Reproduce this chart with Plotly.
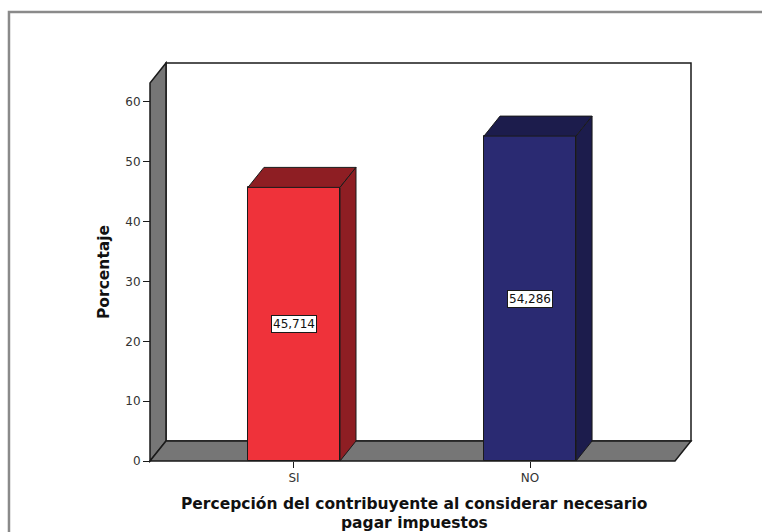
import plotly.graph_objects as go

# ---- data ----
categories = ["SI", "NO"]
percentages = [45.714, 54.286]
value_labels = ["45,714", "54,286"]
y_ticks = [0, 10, 20, 30, 40, 50, 60]
x_title_lines = ["Percepción del contribuyente al considerar necesario", "pagar impuestos"]
y_title = "Porcentaje"

# ---- styling ----
front_colors = ["#ef323a", "#2a2a72"]
shade_colors = ["#8e1e23", "#1c1c4c"]
wall_gray = "#767676"
edge = "#1a1a1a"
FONT = "DejaVu Sans, Verdana, sans-serif"

W, H = 762, 532
cat_x = list(range(len(categories)))

# axis scale (pixels per unit) and extent of the 3-D box
px_per_x = 236.0
px_per_y = 5.985
x_lo, x_hi = -0.61, 1.682
y_hi = 66.5
bar_w = 0.39
dx = 16 / px_per_x          # depth offset, horizontal
dy = 20 / px_per_y          # depth offset, vertical
PAD = 4                     # room so the box edges are not clipped

x_rng = [x_lo - PAD / px_per_x, x_hi + PAD / px_per_x]
y_rng = [-PAD / px_per_y, y_hi + PAD / px_per_y]
pw = (x_rng[1] - x_rng[0]) * px_per_x
ph = (y_rng[1] - y_rng[0]) * px_per_y
ml = 150 - PAD
mt = 63 - PAD
mr = W - ml - pw
mb = H - mt - ph


def paper_x(px):
    return (px - ml) / pw


def paper_y(py):
    return (H - mb - py) / ph


fig = go.Figure()

# front faces of the bars
fig.add_trace(go.Bar(
    x=cat_x, y=percentages, width=bar_w,
    marker=dict(color=front_colors, line=dict(color=edge, width=1)),
    hoverinfo="skip", showlegend=False,
))

# top and side faces of each bar
for c, v, col in zip(cat_x, percentages, shade_colors):
    l, r = c - bar_w / 2, c + bar_w / 2
    fig.add_trace(go.Scatter(
        x=[l, l + dx, r + dx, r, l], y=[v, v + dy, v + dy, v, v],
        fill="toself", fillcolor=col, mode="lines",
        line=dict(color=edge, width=1), hoverinfo="skip", showlegend=False,
    ))
    fig.add_trace(go.Scatter(
        x=[r, r, r + dx, r + dx, r], y=[0, v, v + dy, dy, 0],
        fill="toself", fillcolor=col, mode="lines",
        line=dict(color=edge, width=1), hoverinfo="skip", showlegend=False,
    ))

wall_top = y_hi - dy
shapes = [
    # back wall
    dict(type="rect", xref="x", yref="y", x0=x_lo + dx, x1=x_hi, y0=dy, y1=y_hi,
         fillcolor="white", line=dict(color=edge, width=1.5), layer="below"),
    # left wall
    dict(type="path", xref="x", yref="y", layer="below",
         path=f"M{x_lo},0 L{x_lo},{wall_top} L{x_lo + dx},{y_hi} L{x_lo + dx},{dy} Z",
         fillcolor=wall_gray, line=dict(color=edge, width=1.5)),
    # floor
    dict(type="path", xref="x", yref="y", layer="below",
         path=f"M{x_lo},0 L{x_hi - dx},0 L{x_hi},{dy} L{x_lo + dx},{dy} Z",
         fillcolor=wall_gray, line=dict(color=edge, width=1.5)),
    # outer frame
    dict(type="path", xref="paper", yref="paper", layer="above",
         path=f"M{paper_x(9)},{paper_y(H + 5)} L{paper_x(9)},{paper_y(12)} L{paper_x(W + 5)},{paper_y(12)}",
         line=dict(color="#8a8a8a", width=2.5)),
]

annotations = [
    dict(x=c, y=v / 2, xref="x", yref="y", text=t, showarrow=False,
         xanchor="center", yanchor="middle",
         bgcolor="white", bordercolor=edge, borderwidth=1, borderpad=1,
         font=dict(family=FONT, size=12, color="#111"))
    for c, v, t in zip(cat_x, percentages, value_labels)
]
annotations.append(dict(
    x=paper_x(104), y=wall_top / 2, xref="paper", yref="y", text=f"<b>{y_title}</b>",
    textangle=-90, showarrow=False, xanchor="center", yanchor="middle",
    font=dict(family=FONT, size=15.5, color="#111")))
# two title lines, set closer than the default line height
for line, py in zip(x_title_lines, [504, 523]):
    annotations.append(dict(
        x=paper_x(414), y=paper_y(py), xref="paper", yref="paper",
        text=f"<b>{line}</b>", showarrow=False, xanchor="center", yanchor="middle",
        font=dict(family=FONT, size=15.5, color="#111")))

fig.update_layout(
    width=W, height=H,
    margin=dict(l=ml, r=mr, t=mt, b=mb, pad=0),
    paper_bgcolor="white", plot_bgcolor="white",
    shapes=shapes, annotations=annotations,
    xaxis=dict(range=x_rng, tickvals=cat_x, ticktext=categories,
               anchor="free", position=paper_y(461),
               ticks="outside", ticklen=6, tickcolor=edge, tickwidth=1,
               showgrid=False, zeroline=False, showline=False,
               tickfont=dict(family=FONT, size=12, color="#333")),
    yaxis=dict(range=y_rng, tickvals=y_ticks,
               anchor="free", position=paper_x(150),
               ticks="outside", ticklen=7, tickcolor=edge, tickwidth=1,
               showgrid=False, zeroline=False, showline=False,
               tickfont=dict(family=FONT, size=12, color="#333")),
    bargap=0,
)

fig.write_html("out.html")
